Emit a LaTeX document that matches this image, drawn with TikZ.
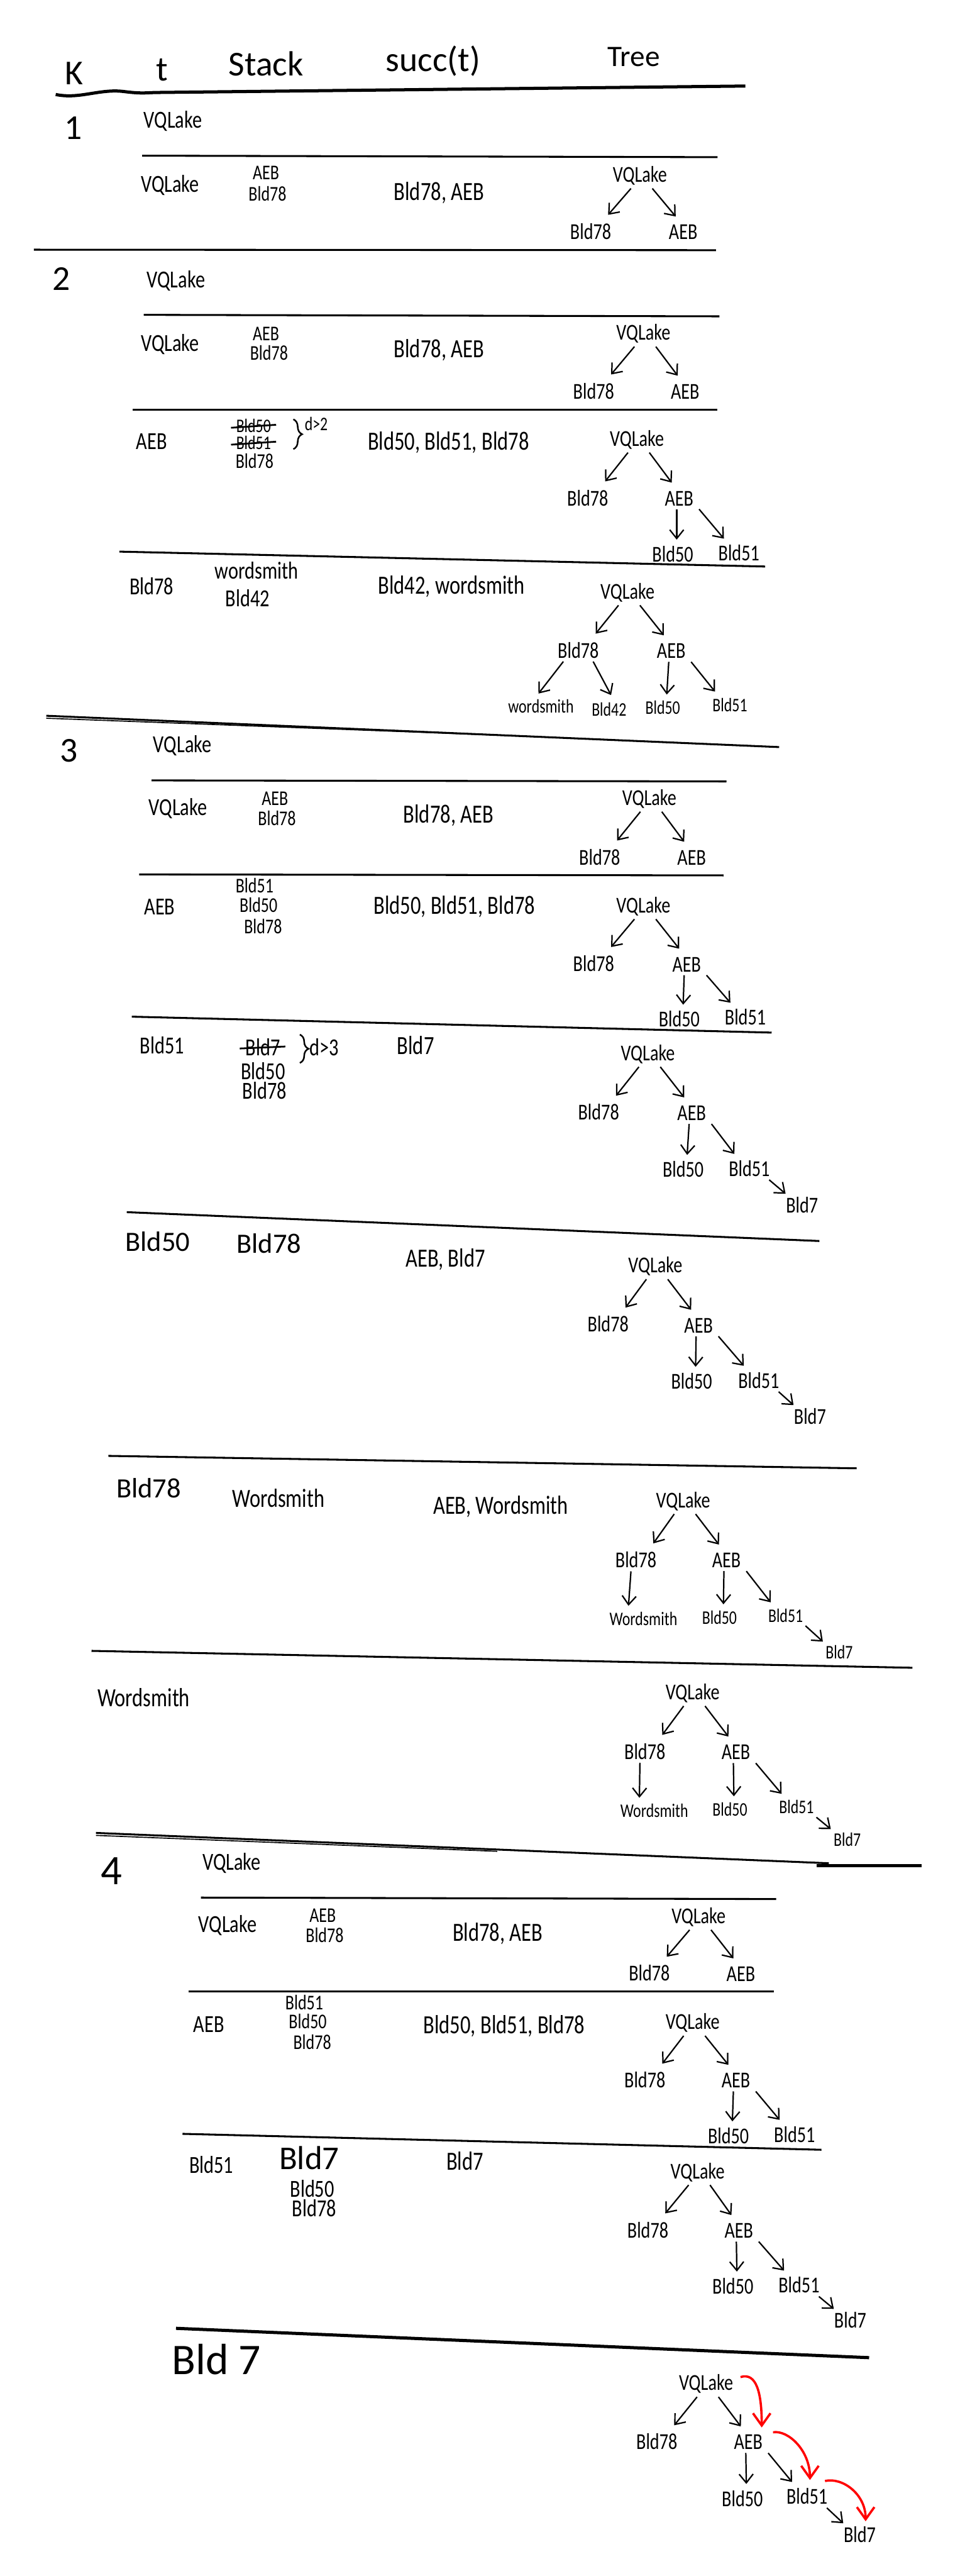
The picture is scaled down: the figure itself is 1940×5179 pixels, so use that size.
\documentclass[tikz,border=0pt]{standalone}
\usepackage{fontspec}
\setmainfont{Carlito}[FakeStretch=0.78]
\newfontfamily\plainf{Carlito}
\usetikzlibrary{arrows.meta,calc,decorations.pathreplacing}
% tree edges, from a parent node to a child node
\newcommand\trL[2]{\draw[arr] ($(#1.south)+(-18,0)$) -- ($(#2.north)+(35,-10)$);}
\newcommand\trR[2]{\draw[arr] ($(#1.south)+(25,0)$) -- ($(#2.north)+(-15,-10)$);}
\newcommand\trD[2]{\draw[arr] ($(#1.south)+(-5,0)$) -- ($(#2.north)+(8,-6)$);}
\newcommand\trQ[2]{\draw[arr] ($(#1.south)+(40,0)$) -- ($(#2.north)+(-30,-6)$);}
\newcommand\trS[2]{\draw[arr] ($(#1.south)+(40,0)$) -- ($(#2.north)+(-33,0)$);}
\newcommand\trW[2]{\draw[arr] ($(#1.south)+(-10,0)$) -- ($(#2.north)+(-30,-5)$);}
\begin{document}
\begin{tikzpicture}[x=0.01cm,y=-0.01cm,
  tn/.style={inner sep=1pt,outer sep=1pt,font=\fontsize{13}{15}\selectfont},
  tl/.style={inner sep=1pt,outer sep=1pt,font=\fontsize{11}{13}\selectfont},
  cell/.style={inner sep=1pt,font=\fontsize{14}{16}\selectfont},
  scell/.style={inner sep=0.5pt,font=\fontsize{12}{13}\selectfont},
  small/.style={inner sep=0.5pt,font=\fontsize{11}{12}\selectfont},
  succ/.style={inner sep=1pt,font=\fontsize{15}{17}\selectfont},
  bigcell/.style={inner sep=1pt,font=\plainf\fontsize{16}{18}\selectfont},
  hdr/.style={inner sep=1pt,font=\plainf\fontsize{20}{22}\selectfont},
  arr/.style={-{Straight Barb[length=5pt,width=8pt]},line width=0.8pt},
  redarr/.style={-{Straight Barb[length=7pt,width=10pt]},line width=1.3pt,red},
  sepline/.style={line width=1.1pt},
  strike/.style={line width=1pt},
  brc/.style={line width=0.9pt,decorate,decoration={brace,amplitude=5pt}}]
\useasboundingbox (0,0) rectangle (1940,5179);

% header
\node[hdr] (hK) at (149,147) {K};
\node[hdr] (ht) at (326,140) {t};
\node[hdr] (hS) at (535,128) {Stack};
\node[hdr] (hs) at (871,123) {succ(t)};
\node[hdr,font=\plainf\fontsize{17}{19}\selectfont] (hT) at (1275,115) {Tree};
\draw[line width=1.8pt] (112,190) .. controls (160,200) and (200,178) .. (249,184) .. controls (280,188) and (290,187) .. (311,186) -- (1499,173);

% ---------- K = 1
\node[hdr] (k1) at (147,258) {1};
\node[cell] (t1a) at (348,243) {VQLake};
\draw[sepline] (286,313) -- (1443,316);

\node[cell] (t1b) at (342,373) {VQLake};
\node[scell] (s1b1) at (535,348) {AEB};
\node[scell] (s1b2) at (538,390) {Bld78};
\node[succ] (u1b) at (883,388) {Bld78, AEB};
\node[tn] (R1b) at (1287,353) {VQLake};
\node[tn] (L1b) at (1188,465) {Bld78};
\node[tn] (A1b) at (1374,467) {AEB};
\trL{R1b}{L1b}
\trR{R1b}{A1b}
\draw[sepline] (68,502) -- (1440,503);

% ---------- K = 2
\node[hdr] (k2) at (124,561) {2};
\node[cell] (t2a) at (354,564) {VQLake};
\draw[sepline] (289,633) -- (1447,636);

\node[cell] (t2b) at (342,692) {VQLake};
\node[scell] (s2b1) at (535,671) {AEB};
\node[scell] (s2b2) at (541,710) {Bld78};
\node[succ] (u2b) at (883,704) {Bld78, AEB};
\node[tn] (R2b) at (1294,671) {VQLake};
\node[tn] (L2b) at (1194,786) {Bld78};
\node[tn] (A2b) at (1378,787) {AEB};
\trL{R2b}{L2b}
\trR{R2b}{A2b}
\draw[sepline] (267,824) -- (1443,824);

\node[cell] (t2c) at (305,887) {AEB};
\node[small] (s2c1) at (510,856) {Bld50};
\node[small] (s2c2) at (510,890) {Bld51};
\node[scell] (s2c3) at (512,927) {Bld78};
\draw[strike] ($(s2c1.west)+(-8,4)$) -- ($(s2c1.east)+(8,-2)$);
\draw[strike] ($(s2c2.west)+(-8,4)$) -- ($(s2c2.east)+(8,-2)$);
\draw[brc] (590,843) -- (590,903);
\node[small] (d2) at (636,852) {d>2};
\node[succ] (u2c) at (902,890) {Bld50, Bld51, Bld78};
\node[tn] (R2c) at (1281,884) {VQLake};
\node[tn] (L2c) at (1182,1001) {Bld78};
\node[tn] (A2c) at (1366,1002) {AEB};
\node[tn] (P2c) at (1353,1114) {Bld50};
\node[tn] (Q2c) at (1486,1112) {Bld51};
\trL{R2c}{L2c}
\trR{R2c}{A2c}
\trD{A2c}{P2c}
\trQ{A2c}{Q2c}
\draw[sepline] (240,1109) -- (1539,1139);

\node[cell] (t2d) at (305,1179) {Bld78};
\node[cell] (s2d1) at (516,1147) {wordsmith};
\node[cell] (s2d2) at (498,1202) {Bld42};
\node[succ] (u2d) at (908,1179) {Bld42, wordsmith};
\node[tn] (R2d) at (1262,1191) {VQLake};
\node[tn] (L2d) at (1163,1307) {Bld78};
\node[tn] (A2d) at (1350,1309) {AEB};
\node[tl] (W2d) at (1088,1420) {wordsmith};
\node[tl] (F2d) at (1225,1426) {Bld42};
\node[tl] (P2d) at (1333,1423) {Bld50};
\node[tl] (Q2d) at (1468,1417) {Bld51};
\trL{R2d}{L2d}
\trR{R2d}{A2d}
\draw[arr] ($(L2d.south)+(-30,0)$) -- ($(W2d.north)+(-5,-5)$);
\draw[arr] ($(L2d.south)+(30,0)$) -- ($(F2d.north)+(4,-8)$);
\trD{A2d}{P2d}
\trQ{A2d}{Q2d}
\draw[sepline] (93,1439) -- (1567,1502);
\draw[line width=0.6pt] (93,1444) -- (1000,1478);

% ---------- K = 3
\node[hdr] (k3) at (139,1509) {3};
\node[cell] (t3a) at (367,1499) {VQLake};
\draw[sepline] (305,1569) -- (1461,1571);

\node[cell] (t3b) at (358,1626) {VQLake};
\node[scell] (s3b1) at (553,1605) {AEB};
\node[scell] (s3b2) at (557,1645) {Bld78};
\node[succ] (u3b) at (902,1640) {Bld78, AEB};
\node[tn] (R3b) at (1306,1606) {VQLake};
\node[tn] (L3b) at (1206,1723) {Bld78};
\node[tn] (A3b) at (1391,1724) {AEB};
\trL{R3b}{L3b}
\trR{R3b}{A3b}
\draw[sepline] (280,1758) -- (1455,1760);

\node[cell] (t3c) at (321,1823) {AEB};
\node[scell] (s3c1) at (512,1780) {Bld51};
\node[scell] (s3c2) at (520,1820) {Bld50};
\node[scell] (s3c3) at (529,1862) {Bld78};
\node[succ] (u3c) at (914,1823) {Bld50, Bld51, Bld78};
\node[tn] (R3c) at (1294,1822) {VQLake};
\node[tn] (L3c) at (1194,1937) {Bld78};
\node[tn] (A3c) at (1381,1939) {AEB};
\node[tn] (P3c) at (1366,2049) {Bld50};
\node[tn] (Q3c) at (1499,2045) {Bld51};
\trL{R3c}{L3c}
\trR{R3c}{A3c}
\trD{A3c}{P3c}
\trQ{A3c}{Q3c}
\draw[sepline] (265,2044) -- (1552,2076);

\node[cell] (t3d) at (326,2102) {Bld51};
\node[cell] (s3d1) at (529,2105) {Bld7};
\draw[strike] ($(s3d1.west)+(-8,3)$) -- ($(s3d1.east)+(6,-1)$);
\draw[brc] (603,2080) -- (603,2137);
\node[cell] (d3) at (652,2105) {d>3};
\node[cell] (s3d2) at (529,2153) {Bld50};
\node[cell] (s3d3) at (532,2193) {Bld78};
\node[succ] (u3d) at (836,2102) {Bld7};
\node[tn] (R3d) at (1303,2119) {VQLake};
\node[tn] (L3d) at (1204,2236) {Bld78};
\node[tn] (A3d) at (1391,2238) {AEB};
\node[tn] (P3d) at (1374,2351) {Bld50};
\node[tn] (Q3d) at (1507,2349) {Bld51};
\node[tn] (S3d) at (1613,2423) {Bld7};
\trL{R3d}{L3d}
\trR{R3d}{A3d}
\trD{A3d}{P3d}
\trQ{A3d}{Q3d}
\trS{Q3d}{S3d}
\draw[sepline] (255,2437) -- (1648,2495);

\node[bigcell] (t3e) at (317,2496) {Bld50};
\node[bigcell] (s3e1) at (541,2500) {Bld78};
\node[succ] (u3e) at (896,2532) {AEB, Bld7};
\node[tn] (R3e) at (1318,2546) {VQLake};
\node[tn] (L3e) at (1223,2662) {Bld78};
\node[tn] (A3e) at (1405,2665) {AEB};
\node[tn] (P3e) at (1391,2777) {Bld50};
\node[tn] (Q3e) at (1526,2775) {Bld51};
\node[tn] (S3e) at (1629,2848) {Bld7};
\trL{R3e}{L3e}
\trR{R3e}{A3e}
\trD{A3e}{P3e}
\trQ{A3e}{Q3e}
\trS{Q3e}{S3e}
\draw[sepline] (218,2927) -- (1723,2952);

\node[bigcell] (t3f) at (299,2992) {Bld78};
\node[succ] (s3f1) at (560,3012) {Wordsmith};
\node[succ] (u3f) at (1007,3029) {AEB, Wordsmith};
\node[tn] (R3f) at (1374,3018) {VQLake};
\node[tn] (L3f) at (1279,3136) {Bld78};
\node[tn] (A3f) at (1461,3137) {AEB};
\node[tl] (W3f) at (1294,3254) {Wordsmith};
\node[tl] (P3f) at (1447,3252) {Bld50};
\node[tl] (Q3f) at (1580,3248) {Bld51};
\node[tl] (S3f) at (1688,3321) {Bld7};
\trL{R3f}{L3f}
\trR{R3f}{A3f}
\trW{L3f}{W3f}
\trD{A3f}{P3f}
\trQ{A3f}{Q3f}
\trS{Q3f}{S3f}
\draw[sepline] (184,3319) -- (1835,3353);

\node[succ] (t3g) at (289,3413) {Wordsmith};
\node[tn] (R3g) at (1393,3404) {VQLake};
\node[tn] (L3g) at (1297,3521) {Bld78};
\node[tn] (A3g) at (1480,3523) {AEB};
\node[tl] (W3g) at (1316,3640) {Wordsmith};
\node[tl] (P3g) at (1468,3638) {Bld50};
\node[tl] (Q3g) at (1602,3633) {Bld51};
\node[tl] (S3g) at (1704,3698) {Bld7};
\trL{R3g}{L3g}
\trR{R3g}{A3g}
\trW{L3g}{W3g}
\trD{A3g}{P3g}
\trQ{A3g}{Q3g}
\trS{Q3g}{S3g}
\draw[sepline] (193,3685) -- (1667,3746);
\draw[line width=0.6pt] (193,3690) -- (1000,3722);
\draw[line width=1.6pt] (1642,3751) -- (1853,3751);

% ---------- K = 4
\node[hdr,font=\plainf\fontsize{24}{26}\selectfont] (k4) at (224,3762) {4};
\node[cell] (t4a) at (466,3746) {VQLake};
\draw[sepline] (404,3815) -- (1561,3818);

\node[cell] (t4b) at (458,3871) {VQLake};
\node[scell] (s4b1) at (649,3851) {AEB};
\node[scell] (s4b2) at (653,3891) {Bld78};
\node[succ] (u4b) at (1001,3887) {Bld78, AEB};
\node[tn] (R4b) at (1405,3854) {VQLake};
\node[tn] (L4b) at (1306,3967) {Bld78};
\node[tn] (A4b) at (1490,3969) {AEB};
\trL{R4b}{L4b}
\trR{R4b}{A4b}
\draw[sepline] (379,4004) -- (1557,4004);

\node[cell] (t4c) at (420,4070) {AEB};
\node[scell] (s4c1) at (612,4026) {Bld51};
\node[scell] (s4c2) at (619,4064) {Bld50};
\node[scell] (s4c3) at (628,4106) {Bld78};
\node[succ] (u4c) at (1014,4073) {Bld50, Bld51, Bld78};
\node[tn] (R4c) at (1393,4067) {VQLake};
\node[tn] (L4c) at (1297,4182) {Bld78};
\node[tn] (A4c) at (1480,4183) {AEB};
\node[tn] (P4c) at (1465,4294) {Bld50};
\node[tn] (Q4c) at (1598,4291) {Bld51};
\trL{R4c}{L4c}
\trR{R4c}{A4c}
\trD{A4c}{P4c}
\trQ{A4c}{Q4c}
\draw[sepline] (367,4290) -- (1652,4322);

\node[cell] (t4d) at (425,4352) {Bld51};
\node[bigcell,font=\plainf\fontsize{19}{21}\selectfont] (s4d1) at (622,4339) {Bld7};
\node[cell] (s4d2) at (628,4400) {Bld50};
\node[cell] (s4d3) at (632,4440) {Bld78};
\node[succ] (u4d) at (935,4345) {Bld7};
\node[tn] (R4d) at (1403,4367) {VQLake};
\node[tn] (L4d) at (1303,4483) {Bld78};
\node[tn] (A4d) at (1486,4485) {AEB};
\node[tn] (P4d) at (1474,4596) {Bld50};
\node[tn] (Q4d) at (1607,4594) {Bld51};
\node[tn] (S4d) at (1710,4665) {Bld7};
\trL{R4d}{L4d}
\trR{R4d}{A4d}
\trD{A4d}{P4d}
\trQ{A4d}{Q4d}
\trS{Q4d}{S4d}
\draw[line width=1.8pt] (354,4681) -- (1748,4740);

\node[hdr,font=\plainf\fontsize{25}{27}\selectfont] (t4e) at (435,4743) {Bld 7};
\node[tn] (R4e) at (1420,4793) {VQLake};
\node[tn] (L4e) at (1321,4909) {Bld78};
\node[tn] (A4e) at (1505,4910) {AEB};
\node[tn] (P4e) at (1493,5023) {Bld50};
\node[tn] (Q4e) at (1623,5019) {Bld51};
\node[tn] (S4e) at (1729,5096) {Bld7};
\trL{R4e}{L4e}
\trR{R4e}{A4e}
\trD{A4e}{P4e}
\trQ{A4e}{Q4e}
\trS{Q4e}{S4e}
\draw[redarr] ($(R4e.east)+(8,-14)$) .. controls +(32,-10) and +(0,-70) .. ($(A4e.north)+(27,-8)$);
\draw[redarr] ($(A4e.east)+(14,-20)$) .. controls +(30,-5) and +(0,-60) .. ($(Q4e.north)+(6,-10)$);
\draw[redarr] ($(Q4e.north east)+(-12,-8)$) .. controls +(35,-8) and +(0,-55) .. ($(S4e.north)+(12,-4)$);
\end{tikzpicture}
\end{document}
